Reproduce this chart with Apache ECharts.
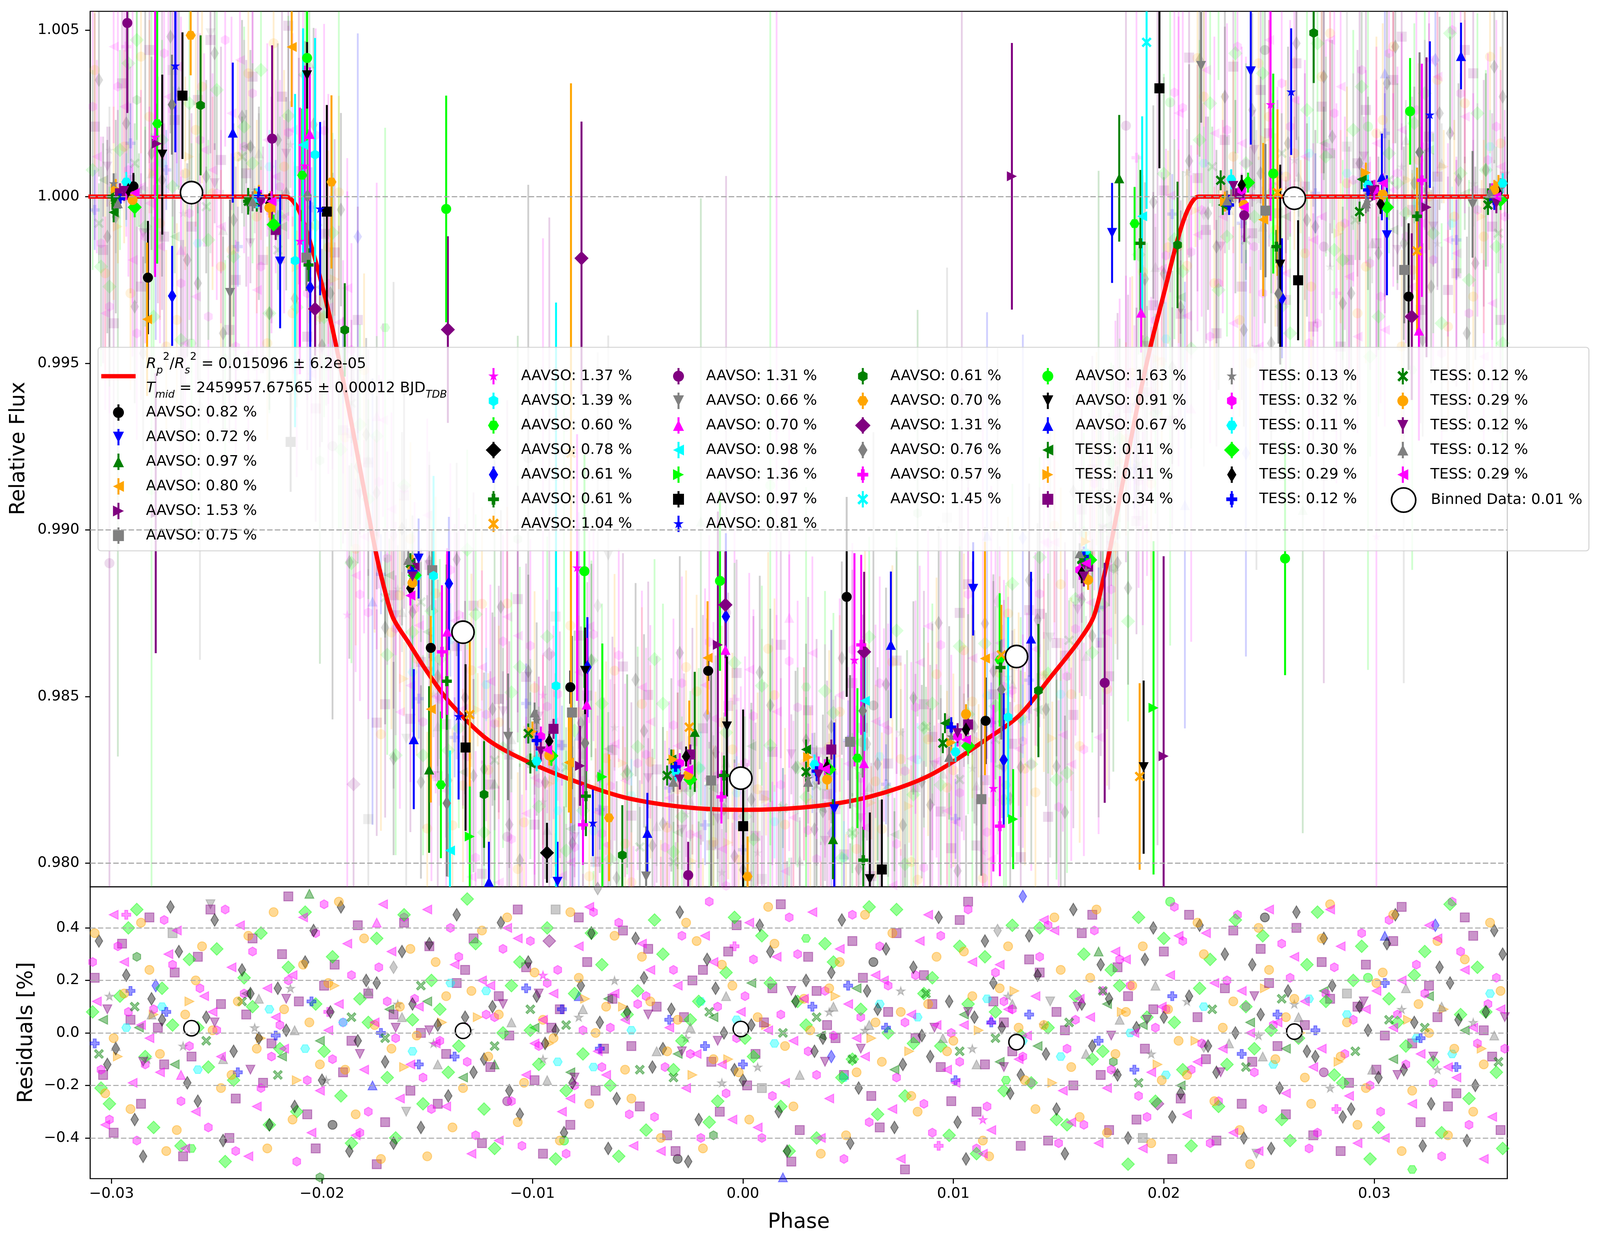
<!DOCTYPE html>
<html>
<head>
<meta charset="utf-8">
<script src="https://cdn.jsdelivr.net/npm/echarts@6/dist/echarts.min.js"></script>
<style>
html, body { margin: 0; padding: 0; background: #fff; overflow: hidden; }
</style>
</head>
<body>
<div id="chart"></div>
<script>
// ---- data ----
const labels = [
  'AAVSO: 0.82 %', 'AAVSO: 0.72 %', 'AAVSO: 0.97 %', 'AAVSO: 0.80 %', 'AAVSO: 1.53 %', 'AAVSO: 0.75 %',
  'AAVSO: 1.37 %', 'AAVSO: 1.39 %', 'AAVSO: 0.60 %', 'AAVSO: 0.78 %', 'AAVSO: 0.61 %', 'AAVSO: 0.61 %', 'AAVSO: 1.04 %',
  'AAVSO: 1.31 %', 'AAVSO: 0.66 %', 'AAVSO: 0.70 %', 'AAVSO: 0.98 %', 'AAVSO: 1.36 %', 'AAVSO: 0.97 %', 'AAVSO: 0.81 %',
  'AAVSO: 0.61 %', 'AAVSO: 0.70 %', 'AAVSO: 1.31 %', 'AAVSO: 0.76 %', 'AAVSO: 0.57 %', 'AAVSO: 1.45 %',
  'AAVSO: 1.63 %', 'AAVSO: 0.91 %', 'AAVSO: 0.67 %', 'TESS: 0.11 %', 'TESS: 0.11 %', 'TESS: 0.34 %',
  'TESS: 0.13 %', 'TESS: 0.32 %', 'TESS: 0.11 %', 'TESS: 0.30 %', 'TESS: 0.29 %', 'TESS: 0.12 %',
  'TESS: 0.12 %', 'TESS: 0.29 %', 'TESS: 0.12 %', 'TESS: 0.12 %', 'TESS: 0.29 %'
];
const modelLabel = ['0.015096', '6.2e-05', '2459957.67565', '0.00012'];
const binnedLabel = 'Binned Data: 0.01 %';

// transit model (phase, relative flux)
const modelPhase = [-0.0311, -0.02172, -0.02115, -0.02066, -0.02017, -0.01968, -0.01928, -0.01871, -0.0181, -0.01746,
  -0.01708, -0.01663, -0.01587, -0.01496, -0.01389, -0.01207, -0.00979, -0.00724, -0.00527, -0.00245, 0.0,
  0.00318, 0.00601, 0.00883, 0.01165, 0.01316, 0.01468, 0.01589, 0.01665, 0.01711, 0.01745, 0.0181, 0.01871,
  0.01938, 0.02003, 0.02068, 0.02117, 0.02166, 0.0364];
const modelFlux = [1.0, 1.0, 0.99965, 0.99883, 0.99776, 0.99653, 0.99538, 0.99357, 0.99153, 0.98938,
  0.98834, 0.98737, 0.9866, 0.9857, 0.98479, 0.98368, 0.98292, 0.98229, 0.98192, 0.98166, 0.9816,
  0.98169, 0.98199, 0.98262, 0.98375, 0.98445, 0.98563, 0.9866, 0.98737, 0.98848, 0.98945, 0.9916, 0.9936,
  0.99554, 0.99716, 0.99877, 0.99965, 1.0, 1.0];

// binned data
const binPhase = [-0.0262, -0.0133, -0.0001, 0.013, 0.0262];
const binFlux = [1.00012, 0.98693, 0.98255, 0.9862, 0.99995];
const binResid = [0.018, 0.008, 0.015, -0.035, 0.005];

// per-dataset binned points [phase, flux, error]
const a01 = [[-0.02896, 1.00031, 0.0004], [-0.02827, 0.99757, 0.0017], [-0.01483, 0.98646, 0.0004], [-0.0082, 0.98528, 0.0005], [-0.00165, 0.98577, 0.0003], [0.00493, 0.98799, 0.003], [0.01153, 0.98427, 0.0013], [0.03163, 0.997, 0.0022]];
const a02 = [[-0.02199, 0.99805, 0.002], [-0.01541, 0.98914, 0.0012], [-0.00881, 0.97944, 0.0012], [0.00434, 0.98162, 0.0026], [0.01094, 0.98823, 0.0014], [0.01754, 0.99891, 0.0015], [0.02413, 1.00376, 0.0022], [0.0306, 0.99884, 0.0018]];
const a03 = [[-0.01491, 0.98281, 0.0025], [-0.00229, 0.98394, 0.0018], [0.00428, 0.98072, 0.0012], [0.01788, 1.00055, 0.0019]];
const a04 = [[-0.02831, 0.99632, 0.0023], [-0.02245, 0.99966, 0.0005], [-0.02144, 1.00449, 0.0018], [-0.01483, 0.98462, 0.0028], [-0.00827, 0.98302, 0.0015], [-0.00168, 0.98616, 0.0017], [0.0115, 0.98614, 0.0035], [0.02472, 0.99931, 0.0023]];
const a05 = [[-0.02785, 1.00159, 0.0012], [-0.0279, 0.9905, 0.0042], [-0.00774, 0.98292, 0.0012], [-0.00119, 0.98655, 0.004], [0.01278, 1.00061, 0.004], [0.01999, 0.98321, 0.006], [0.03248, 0.99968, 0.0045]];
const a06 = [[-0.02149, 0.99264, 0.0015], [-0.02074, 0.99817, 0.001], [-0.01476, 0.98879, 0.0012], [-0.00812, 0.98452, 0.0023], [-0.00151, 0.98248, 0.0032], [0.00509, 0.98364, 0.002], [0.01133, 0.98192, 0.0023], [0.02483, 0.99958, 0.002], [0.03142, 0.9978, 0.0016]];
const a07 = [[-0.02793, 1.00179, 0.0042], [-0.02105, 0.99867, 0.004], [-0.02082, 1.00093, 0.003], [-0.00788, 0.98887, 0.004], [0.0053, 0.9861, 0.0032], [0.0119, 0.98225, 0.0025], [0.02507, 1.00277, 0.0035]];
const a08 = [[-0.02128, 0.99808, 0.005], [-0.02033, 1.00126, 0.0035], [-0.0147, 0.98862, 0.003], [-0.00888, 0.98532, 0.0115], [0.0126, 0.98438, 0.003]];
const a09 = [[-0.02783, 1.00219, 0.0042], [-0.02094, 1.00064, 0.002], [-0.01435, 0.98235, 0.0022], [0.00544, 0.98315, 0.0021], [0.0122, 0.9861, 0.002], [0.01861, 0.99919, 0.0011]];
const a10 = [[-0.00931, 0.98031, 0.0009]];
const a11 = [[-0.02712, 0.99702, 0.0015], [-0.02056, 0.99727, 0.0028], [-0.01397, 0.98839, 0.002], [-0.00739, 0.98588, 0.0015], [-0.00081, 0.9874, 0.0025], [0.01239, 0.9831, 0.002], [0.02561, 0.99695, 0.0018]];
const a12 = [[-0.02996, 1.0, 0.0004], [-0.02351, 0.99986, 0.0004], [-0.02064, 0.99795, 0.0005], [-0.01407, 0.98546, 0.0035], [-0.00746, 0.98201, 0.0012], [-0.0009, 0.98263, 0.0006], [0.00572, 0.98009, 0.001], [0.01224, 0.98587, 0.0008], [0.01889, 0.9986, 0.0022], [0.02535, 0.9985, 0.0005], [0.03203, 0.99941, 0.0005]];
const a13 = [[-0.01298, 0.98446, 0.0022], [-0.00817, 0.9923, 0.0111], [-0.00255, 0.98408, 0.0008], [0.01228, 0.98625, 0.0015], [0.01885, 0.9826, 0.0028], [0.0254, 1.00012, 0.0025], [0.03203, 0.99837, 0.0025]];
const a14 = [[-0.02925, 1.00521, 0.0027], [-0.02237, 1.00174, 0.0028], [-0.0026, 0.97964, 0.001], [0.01719, 0.98541, 0.0036], [0.02382, 0.99944, 0.0008]];
const a15 = [[-0.02437, 0.99711, 0.0028], [-0.01116, 0.98379, 0.0019], [-0.0046, 0.9796, 0.0015], [0.02177, 1.00392, 0.0017], [0.03467, 0.99977, 0.0016]];
const a16 = [[-0.02058, 1.00188, 0.002], [-0.01405, 0.98695, 0.0025], [-0.00742, 0.98476, 0.002], [-0.00083, 0.9864, 0.002], [0.00575, 0.983, 0.002], [0.01892, 0.99652, 0.0012], [0.03212, 0.99598, 0.0033]];
const a17 = [[-0.0209, 1.00155, 0.0035], [-0.01392, 0.98038, 0.003], [0.00579, 0.98487, 0.0015], [0.01897, 0.99941, 0.003]];
const a18 = [[-0.01298, 0.9808, 0.0015], [-0.00668, 0.98259, 0.004], [0.01284, 0.98132, 0.0015], [0.01951, 0.98466, 0.005]];
const a19 = [[-0.02663, 1.00303, 0.0019], [-0.01977, 0.99955, 0.0032], [-0.01318, 0.98347, 0.0025], [0.00001, 0.98111, 0.0035], [0.0066, 0.97981, 0.0021], [0.01979, 1.00325, 0.0024], [0.02638, 0.99749, 0.0018]];
const a20 = [[-0.02697, 1.00393, 0.0026], [-0.02009, 0.99964, 0.0026], [-0.01351, 0.98441, 0.0025], [-0.00713, 0.98121, 0.001], [0.02605, 1.00315, 0.0019], [0.03264, 1.00246, 0.0022]];
const a21 = [[-0.02577, 1.00274, 0.0021], [-0.01892, 0.996, 0.0014], [-0.0123, 0.98206, 0.0016], [-0.00573, 0.98024, 0.0015], [0.01404, 0.98518, 0.002], [0.02065, 0.99855, 0.0019], [0.02712, 1.00491, 0.0015]];
const a22 = [[-0.02624, 1.00484, 0.0012], [-0.01955, 1.00044, 0.0026], [-0.00636, 0.98136, 0.0019], [0.00022, 0.9796, 0.0012]];
const a23 = [[-0.02033, 0.99663, 0.0014], [-0.01402, 0.99601, 0.0028], [-0.00767, 0.99815, 0.0041], [-0.00083, 0.98775, 0.0016], [0.00576, 0.98634, 0.0024], [0.03178, 0.9964, 0.0025]];
const a24 = [[-0.02713, 1.00276, 0.0015], [-0.02069, 1.00002, 0.002], [-0.01407, 0.9818, 0.0022], [-0.0075, 0.9836, 0.0015], [0.00569, 0.98457, 0.002], [0.01228, 0.98521, 0.0015], [0.02545, 0.99709, 0.0015], [0.03215, 1.00133, 0.003]];
const a25 = [[-0.0143, 0.98634, 0.002], [-0.0076, 0.98115, 0.0012], [-0.00102, 0.98199, 0.0008], [0.00562, 0.98655, 0.0027], [0.01221, 0.98111, 0.0015], [0.03226, 1.00049, 0.0035]];
const a26 = [[0.01918, 1.00463, 0.005]];
const a27 = [[-0.02071, 1.00416, 0.0025], [-0.0141, 0.99963, 0.0034], [-0.00753, 0.98876, 0.0035], [-0.00109, 0.98847, 0.0027], [0.0252, 1.00069, 0.003], [0.02576, 0.98914, 0.0035], [0.0317, 1.00256, 0.0016]];
const a28 = [[-0.02759, 1.00126, 0.0024], [-0.02071, 1.00364, 0.001], [-0.0075, 0.98577, 0.0013], [-0.00076, 0.9841, 0.0021], [0.00603, 0.97952, 0.002], [0.01904, 0.98288, 0.0026], [0.02553, 0.99796, 0.003]];
const a29 = [[-0.02424, 1.00192, 0.0021], [-0.01564, 0.98372, 0.0021], [-0.01207, 0.97944, 0.0012], [-0.00454, 0.98091, 0.0012], [0.00703, 0.98655, 0.0022], [0.01369, 0.98674, 0.002], [0.03036, 1.00059, 0.0013], [0.03412, 1.00422, 0.001]];

// TESS binned points [phase, flux], error bars all about the same
const tessBinErr = 0.0003;
const t01 = [[-0.0299, 0.99953], [-0.0231, 0.99985], [-0.0158, 0.9889], [-0.0101, 0.98299], [-0.0034, 0.98311], [0.003, 0.98341], [0.0096, 0.9842], [0.0161, 0.98905], [0.0228, 0.99975], [0.0294, 1.00052], [0.0354, 0.99995]];
const t02 = [[-0.0298, 1.00023], [-0.023, 1.00005], [-0.0157, 0.98895], [-0.01, 0.98395], [-0.0033, 0.98311], [0.0031, 0.98318], [0.0099, 0.98362], [0.0163, 0.98965], [0.0229, 0.99985], [0.0296, 1.00072], [0.0359, 1.00035]];
const t03 = [[-0.0296, 1.0001], [-0.0222, 0.999], [-0.0156, 0.98886], [-0.009, 0.98403], [-0.0025, 0.98326], [0.0042, 0.98341], [0.0107, 0.98416], [0.0164, 0.9889], [0.0236, 1.0001], [0.03, 1.0002], [0.0358, 1.0]];
const t04 = [[-0.0299, 1.0004], [-0.0232, 0.99995], [-0.0157, 0.9888], [-0.0098, 0.9843], [-0.0032, 0.98289], [0.0031, 0.98255], [0.0099, 0.9838], [0.0163, 0.9888], [0.0232, 0.99995], [0.0297, 0.99985], [0.036, 1.00025]];
const t05 = [[-0.0293, 1.0002], [-0.0229, 0.9999], [-0.0156, 0.9887], [-0.0096, 0.9838], [-0.003, 0.983], [0.0036, 0.9829], [0.0102, 0.9838], [0.016, 0.9888], [0.0237, 1.0002], [0.03, 1.0002], [0.0356, 1.0001]];
const t06 = [[-0.0293, 1.00044], [-0.0231, 0.99995], [-0.0155, 0.98862], [-0.0098, 0.98306], [-0.0032, 0.98275], [0.0034, 0.98296], [0.0101, 0.98334], [0.0163, 0.9893], [0.0232, 1.00052], [0.0297, 1.00035], [0.0361, 1.0004]];
const t07 = [[-0.0289, 0.99968], [-0.0223, 0.99916], [-0.0156, 0.98864], [-0.0091, 0.98322], [-0.0025, 0.98251], [0.0041, 0.98281], [0.0107, 0.98352], [0.0165, 0.9891], [0.024, 1.00042], [0.0306, 0.99968], [0.036, 0.9999]];
const t08 = [[-0.0292, 1.0002], [-0.0225, 0.9998], [-0.0158, 0.98825], [-0.0092, 0.98366], [-0.0027, 0.9832], [0.004, 0.98289], [0.0106, 0.98401], [0.0161, 0.9887], [0.0237, 1.00035], [0.0303, 0.99978], [0.0359, 1.0001]];
const t09 = [[-0.0296, 0.99994], [-0.023, 1.0], [-0.0157, 0.98875], [-0.0098, 0.98368], [-0.0032, 0.98289], [0.0035, 0.98276], [0.0099, 0.98408], [0.0162, 0.9892], [0.0231, 0.99975], [0.0297, 1.0002], [0.0357, 0.9999]];
const t10 = [[-0.0298, 0.9999], [-0.0235, 0.99986], [-0.0158, 0.989], [-0.0102, 0.98389], [-0.0036, 0.98263], [0.003, 0.98274], [0.0095, 0.9836], [0.0161, 0.98911], [0.0227, 1.00049], [0.0293, 0.99955], [0.0354, 0.99975]];
const t11 = [[-0.029, 0.9999], [-0.0225, 0.99967], [-0.0157, 0.98841], [-0.0092, 0.98323], [-0.0026, 0.98265], [0.004, 0.98251], [0.0106, 0.98447], [0.0164, 0.9885], [0.0238, 0.99975], [0.0304, 1.00006], [0.0357, 1.0002]];
const t12 = [[-0.0294, 1.00017], [-0.0229, 0.99982], [-0.0157, 0.9886], [-0.0096, 0.98335], [-0.003, 0.98251], [0.0036, 0.98266], [0.0102, 0.9839], [0.0162, 0.9886], [0.0233, 1.00032], [0.0299, 1.00018], [0.0358, 0.9998]];
const t13 = [[-0.0297, 0.9998], [-0.0233, 0.99986], [-0.0159, 0.9891], [-0.0099, 0.98452], [-0.0033, 0.98244], [0.0031, 0.98244], [0.0098, 0.98319], [0.016, 0.9893], [0.023, 0.99988], [0.0296, 0.9998], [0.0355, 1.0001]];
const t14 = [[-0.0289, 1.00011], [-0.0224, 0.99986], [-0.0158, 0.98803], [-0.0093, 0.9834], [-0.0026, 0.98281], [0.0039, 0.98282], [0.0106, 0.9837], [0.0163, 0.989], [0.0238, 0.99968], [0.0304, 1.0004], [0.0358, 1.0]];

// unbinned residuals [phase, residual %]
const rt01 = [[-0.0304, 0.05], [-0.027, -0.12], [-0.0236, 0.15], [-0.0201, -0.03], [-0.0168, 0.09], [-0.0133, -0.17], [-0.0099, 0.02], [-0.0064, 0.13], [-0.0031, -0.08], [0.0004, 0.19], [0.0037, -0.01], [0.0072, -0.14], [0.0105, 0.07], [0.014, -0.05], [0.0173, 0.11], [0.0208, -0.2], [0.0241, 0.04], [0.0276, 0.16], [0.0309, -0.1], [0.0343, 0.01],
  [-0.0287, 0.02], [-0.0219, -0.09], [-0.015, 0.12], [-0.0082, -0.15], [-0.0014, 0.06], [0.0054, 0.17], [0.0122, -0.11], [0.019, 0.03], [0.0258, -0.06], [0.0326, 0.14]];
const rt02 = [[-0.0297, -0.09], [-0.0263, 0.12], [-0.0229, -0.02], [-0.0194, 0.18], [-0.0161, -0.13], [-0.0126, 0.06], [-0.0092, -0.04], [-0.0057, 0.1], [-0.0024, -0.16], [0.0011, 0.03], [0.0044, 0.14], [0.0079, -0.07], [0.0112, 0.01], [0.0147, -0.19], [0.018, 0.08], [0.0215, -0.03], [0.0248, 0.17], [0.0283, -0.11], [0.0316, 0.05], [0.0351, -0.06],
  [-0.028, 0.07], [-0.0212, -0.18], [-0.0143, 0.04], [-0.0075, 0.13], [-0.0007, -0.1], [0.0061, -0.02], [0.0129, 0.16], [0.0197, -0.12], [0.0265, 0.0], [0.0333, 0.09]];
const rt03 = [[-0.0308, 0.21], [-0.0299, -0.38], [-0.0291, 0.05], [-0.0282, 0.44], [-0.0275, -0.12], [-0.0266, -0.47], [-0.0259, 0.29], [-0.0248, 0.11], [-0.0241, -0.25], [-0.0233, 0.36], [-0.0224, -0.04], [-0.0216, 0.52], [-0.0207, -0.31], [-0.0199, 0.18], [-0.019, -0.15], [-0.0183, 0.41], [-0.0174, -0.5], [-0.0166, 0.07], [-0.0158, -0.22], [-0.0149, 0.33], [-0.0141, -0.08], [-0.0132, 0.24], [-0.0124, -0.42], [-0.0116, 0.14], [-0.0107, 0.47], [-0.0099, -0.18], [-0.0091, 0.02], [-0.0082, -0.35], [-0.0074, 0.27], [-0.0066, -0.06], [-0.0057, 0.39], [-0.0049, -0.28], [-0.0041, 0.1], [-0.0032, -0.45], [-0.0024, 0.2], [-0.0015, -0.11], [-0.0007, 0.31], [0.0002, -0.2], [0.001, 0.04], [0.0018, 0.49], [0.0027, -0.37], [0.0035, 0.16], [0.0044, -0.02], [0.0052, 0.35], [0.0061, -0.24], [0.0069, 0.08], [0.0077, -0.52], [0.0086, 0.22], [0.0094, -0.13], [0.0103, 0.43], [0.0111, -0.3], [0.0119, 0.12], [0.0128, -0.07], [0.0136, 0.28], [0.0145, -0.41], [0.0153, 0.01], [0.0161, 0.38], [0.017, -0.16], [0.0178, 0.25], [0.0187, -0.33], [0.0195, 0.09], [0.0204, -0.48], [0.0212, 0.45], [0.022, -0.1], [0.0229, 0.17], [0.0237, -0.27], [0.0246, 0.32], [0.0254, -0.05], [0.0263, 0.4], [0.0271, -0.39], [0.0279, 0.13], [0.0288, -0.19], [0.0296, 0.26], [0.0305, -0.01], [0.0313, 0.48], [0.0322, -0.34], [0.033, 0.06], [0.0339, -0.23], [0.0347, 0.37], [0.0356, -0.09],
  [-0.0304, -0.16], [-0.0295, 0.34], [-0.0286, -0.27], [-0.0278, 0.02], [-0.027, 0.23], [-0.0262, -0.09], [-0.0253, 0.47], [-0.0244, -0.4], [-0.0236, 0.07], [-0.0228, -0.19], [-0.0219, 0.3], [-0.0211, 0.12], [-0.0203, -0.44], [-0.0194, 0.26], [-0.0186, -0.03], [-0.0178, 0.15], [-0.017, -0.34], [-0.0161, 0.42], [-0.0153, 0.0], [-0.0145, -0.27], [-0.0136, 0.19], [-0.0128, 0.36], [-0.012, -0.13], [-0.0111, -0.01], [-0.0103, 0.25], [-0.0095, -0.46], [-0.0087, 0.09], [-0.0078, 0.44], [-0.007, -0.22], [-0.0062, 0.13], [-0.0053, -0.05], [-0.0045, 0.32], [-0.0036, -0.39], [-0.0028, 0.06], [-0.0019, 0.24], [-0.0011, -0.3], [-0.0003, 0.41], [0.0006, -0.08], [0.0014, 0.17], [0.0023, -0.49], [0.0031, 0.29], [0.004, 0.03], [0.0048, -0.16], [0.0057, 0.21], [0.0065, -0.36], [0.0073, 0.38], [0.0082, -0.02], [0.009, 0.11], [0.0099, -0.26], [0.0107, 0.5], [0.0115, -0.12], [0.0124, 0.04], [0.0132, -0.43], [0.0141, 0.23], [0.0149, 0.08], [0.0157, -0.2], [0.0166, 0.45], [0.0174, -0.37], [0.0183, 0.14], [0.0191, -0.06], [0.02, 0.31], [0.0208, -0.25], [0.0216, 0.06], [0.0225, -0.41], [0.0233, 0.39], [0.0242, -0.11], [0.025, 0.19], [0.0258, -0.31], [0.0267, 0.03], [0.0275, 0.27], [0.0284, -0.45], [0.0292, 0.1], [0.0301, -0.14], [0.0309, 0.35], [0.0318, -0.04], [0.0326, 0.18], [0.0335, -0.28], [0.0343, 0.44], [0.0352, 0.01], [0.036, -0.37]];
const rt04 = [[-0.0301, 0.14], [-0.0266, -0.05], [-0.0232, 0.02], [-0.0198, -0.18], [-0.0164, 0.11], [-0.013, 0.01], [-0.0095, -0.1], [-0.0061, 0.2], [-0.0027, -0.02], [0.0007, -0.13], [0.0041, 0.08], [0.0075, 0.16], [0.0109, -0.06], [0.0143, 0.03], [0.0177, -0.15], [0.0211, 0.12], [0.0245, -0.01], [0.0279, -0.21], [0.0313, 0.09], [0.0347, 0.04],
  [-0.0283, -0.1], [-0.0215, 0.17], [-0.0147, -0.04], [-0.0078, 0.06], [-0.001, -0.19], [0.0058, 0.01], [0.0126, 0.14], [0.0194, -0.08], [0.0262, 0.11], [0.033, -0.14]];
const rt05 = [[-0.0305, -0.14], [-0.0297, 0.33], [-0.0288, -0.41], [-0.028, 0.09], [-0.0271, 0.26], [-0.0263, -0.05], [-0.0254, -0.36], [-0.0246, 0.47], [-0.0237, 0.15], [-0.0229, -0.21], [-0.022, 0.03], [-0.0212, -0.49], [-0.0203, 0.38], [-0.0195, -0.1], [-0.0186, 0.22], [-0.0178, -0.3], [-0.0169, 0.12], [-0.0161, 0.44], [-0.0152, -0.17], [-0.0144, -0.03], [-0.0135, 0.29], [-0.0127, -0.39], [-0.0118, 0.06], [-0.011, -0.26], [-0.0101, 0.35], [-0.0093, 0.19], [-0.0084, -0.46], [-0.0076, 0.01], [-0.0067, -0.13], [-0.0059, 0.42], [-0.005, 0.11], [-0.0042, -0.32], [-0.0033, 0.24], [-0.0025, -0.08], [-0.0016, 0.5], [-0.0008, -0.23], [0.0001, 0.14], [0.0009, -0.4], [0.0018, 0.07], [0.0026, 0.3], [0.0035, -0.16], [0.0043, -0.01], [0.0052, 0.45], [0.006, -0.34], [0.0069, 0.18], [0.0077, 0.04], [0.0086, -0.27], [0.0094, 0.37], [0.0103, -0.11], [0.0111, -0.44], [0.012, 0.23], [0.0128, 0.09], [0.0137, -0.19], [0.0145, 0.41], [0.0154, -0.06], [0.0162, -0.35], [0.0171, 0.16], [0.0179, 0.28], [0.0188, -0.24], [0.0196, 0.02], [0.0205, 0.48], [0.0213, -0.14], [0.0222, -0.42], [0.023, 0.2], [0.0239, 0.1], [0.0247, -0.29], [0.0256, 0.34], [0.0264, -0.02], [0.0273, -0.38], [0.0281, 0.25], [0.029, 0.05], [0.0298, -0.2], [0.0307, 0.43], [0.0315, -0.12], [0.0324, 0.15], [0.0332, -0.47], [0.0341, 0.31], [0.0349, -0.04], [0.0358, 0.21],
  [-0.0309, 0.27], [-0.0301, -0.33], [-0.0292, 0.08], [-0.0284, -0.12], [-0.0275, 0.43], [-0.0267, -0.26], [-0.0258, 0.17], [-0.025, 0.01], [-0.0241, -0.45], [-0.0233, 0.31], [-0.0224, -0.09], [-0.0216, 0.2], [-0.0207, -0.18], [-0.0199, 0.49], [-0.019, 0.04], [-0.0182, -0.38], [-0.0173, 0.25], [-0.0165, -0.02], [-0.0156, 0.13], [-0.0148, -0.29], [-0.0139, 0.4], [-0.0131, -0.11], [-0.0122, 0.07], [-0.0114, 0.32], [-0.0105, -0.43], [-0.0097, -0.05], [-0.0088, 0.24], [-0.008, -0.2], [-0.0071, 0.46], [-0.0063, 0.02], [-0.0054, -0.31], [-0.0046, 0.14], [-0.0037, -0.13], [-0.0029, 0.37], [-0.002, -0.4], [-0.0012, 0.1], [-0.0003, -0.02], [0.0005, 0.28], [0.0014, -0.24], [0.0022, 0.44], [0.0031, -0.07], [0.0039, 0.16], [0.0048, -0.48], [0.0056, 0.06], [0.0065, 0.33], [0.0073, -0.17], [0.0082, 0.22], [0.009, -0.38], [0.0099, 0.0], [0.0107, 0.47], [0.0116, -0.28], [0.0124, 0.12], [0.0133, -0.09], [0.0141, 0.29], [0.015, -0.42], [0.0158, 0.05], [0.0167, 0.39], [0.0175, -0.14], [0.0184, 0.18], [0.0192, -0.32], [0.0201, 0.09], [0.0209, 0.35], [0.0218, -0.04], [0.0226, -0.26], [0.0235, 0.45], [0.0243, -0.15], [0.0252, 0.03], [0.026, 0.21], [0.0269, -0.44], [0.0277, 0.15], [0.0286, -0.08], [0.0294, 0.38], [0.0303, -0.3], [0.0311, 0.07], [0.032, 0.26], [0.0328, -0.19], [0.0337, 0.5], [0.0345, -0.35], [0.0354, 0.11], [0.0362, -0.06]];
const rt06 = [[-0.0293, 0.02], [-0.0259, -0.14], [-0.0225, 0.09], [-0.019, 0.04], [-0.0157, -0.07], [-0.0122, 0.16], [-0.0088, -0.11], [-0.0053, 0.01], [-0.002, 0.12], [0.0015, -0.04], [0.0048, -0.17], [0.0083, 0.06], [0.0116, 0.13], [0.0151, -0.09], [0.0184, 0.0], [0.0219, 0.1], [0.0252, -0.12], [0.0287, 0.07], [0.032, -0.02], [0.0355, 0.15],
  [-0.0276, 0.1], [-0.0208, -0.06], [-0.0139, 0.19], [-0.0071, -0.13], [-0.0003, 0.05], [0.0065, 0.11], [0.0133, -0.03], [0.0201, -0.16], [0.0269, 0.13], [0.0337, -0.08]];
const rt07 = [[-0.0309, 0.08], [-0.0301, -0.27], [-0.0292, 0.4], [-0.0284, -0.09], [-0.0276, 0.17], [-0.0267, -0.43], [-0.0259, 0.02], [-0.025, 0.32], [-0.0242, -0.18], [-0.0233, 0.1], [-0.0225, -0.35], [-0.0216, 0.25], [-0.0208, 0.46], [-0.0199, -0.07], [-0.0191, -0.24], [-0.0182, 0.13], [-0.0174, 0.36], [-0.0165, -0.4], [-0.0157, 0.05], [-0.0148, 0.2], [-0.014, -0.15], [-0.0131, 0.51], [-0.0123, -0.29], [-0.0114, 0.0], [-0.0106, 0.27], [-0.0097, -0.12], [-0.0089, -0.48], [-0.008, 0.15], [-0.0072, 0.38], [-0.0063, -0.2], [-0.0055, 0.07], [-0.0046, -0.37], [-0.0038, 0.3], [-0.0029, -0.03], [-0.0021, 0.12], [-0.0012, -0.26], [-0.0004, 0.44], [0.0005, -0.09], [0.0013, 0.19], [0.0022, -0.45], [0.003, 0.03], [0.0039, 0.34], [0.0047, -0.17], [0.0056, 0.09], [0.0064, -0.31], [0.0073, 0.47], [0.0081, -0.04], [0.009, 0.21], [0.0098, -0.39], [0.0107, 0.11], [0.0115, 0.29], [0.0124, -0.22], [0.0132, -0.01], [0.0141, 0.4], [0.0149, -0.33], [0.0158, 0.14], [0.0166, -0.1], [0.0175, 0.24], [0.0183, -0.5], [0.0192, 0.06], [0.02, 0.36], [0.0209, -0.14], [0.0217, 0.17], [0.0226, -0.28], [0.0234, 0.43], [0.0243, -0.06], [0.0251, 0.01], [0.026, -0.41], [0.0268, 0.26], [0.0277, 0.12], [0.0285, -0.19], [0.0294, 0.33], [0.0302, -0.36], [0.0311, 0.04], [0.0319, 0.22], [0.0328, -0.11], [0.0336, 0.49], [0.0345, -0.25], [0.0353, 0.08], [0.0361, -0.44],
  [-0.0305, -0.21], [-0.0296, 0.14], [-0.0288, 0.47], [-0.028, -0.36], [-0.0271, 0.03], [-0.0263, 0.28], [-0.0254, -0.13], [-0.0246, -0.49], [-0.0237, 0.21], [-0.0229, 0.38], [-0.022, -0.06], [-0.0212, -0.3], [-0.0203, 0.11], [-0.0195, 0.29], [-0.0186, -0.42], [-0.0178, 0.04], [-0.0169, -0.17], [-0.0161, 0.45], [-0.0152, -0.27], [-0.0144, 0.09], [-0.0135, -0.05], [-0.0127, 0.34], [-0.0118, -0.44], [-0.011, 0.18], [-0.0101, 0.01], [-0.0093, 0.4], [-0.0084, -0.22], [-0.0076, -0.08], [-0.0067, 0.26], [-0.0059, -0.47], [-0.005, 0.16], [-0.0042, 0.43], [-0.0033, -0.14], [-0.0025, 0.05], [-0.0016, -0.34], [-0.0008, 0.23], [0.0001, -0.02], [0.0009, 0.37], [0.0018, -0.28], [0.0026, 0.12], [0.0035, -0.4], [0.0043, 0.27], [0.0052, -0.1], [0.006, 0.48], [0.0069, 0.0], [0.0077, -0.24], [0.0086, 0.15], [0.0094, -0.05], [0.0103, 0.33], [0.0111, -0.46], [0.012, 0.08], [0.0128, 0.41], [0.0137, -0.19], [0.0145, 0.02], [0.0154, -0.35], [0.0162, 0.3], [0.0171, -0.07], [0.0179, 0.18], [0.0188, 0.44], [0.0196, -0.26], [0.0205, 0.04], [0.0213, -0.43], [0.0222, 0.28], [0.023, -0.12], [0.0239, 0.1], [0.0247, 0.37], [0.0256, -0.33], [0.0264, -0.02], [0.0273, 0.46], [0.0281, -0.16], [0.029, 0.2], [0.0298, -0.48], [0.0307, 0.13], [0.0315, -0.05], [0.0324, 0.31], [0.0332, -0.38], [0.0341, 0.07], [0.0349, 0.25], [0.0358, -0.15]];
const rt08 = [[-0.0306, 0.35], [-0.0298, -0.06], [-0.0289, -0.33], [-0.0281, 0.13], [-0.0272, 0.48], [-0.0264, -0.19], [-0.0255, 0.06], [-0.0247, -0.41], [-0.0238, 0.24], [-0.023, -0.02], [-0.0221, 0.17], [-0.0213, -0.28], [-0.0204, 0.39], [-0.0196, 0.08], [-0.0187, -0.45], [-0.0179, 0.2], [-0.017, -0.11], [-0.0162, 0.31], [-0.0153, -0.36], [-0.0145, 0.03], [-0.0136, 0.45], [-0.0128, -0.15], [-0.0119, 0.1], [-0.0111, -0.22], [-0.0102, 0.27], [-0.0094, -0.04], [-0.0085, -0.38], [-0.0077, 0.18], [-0.0068, 0.04], [-0.006, -0.25], [-0.0051, 0.36], [-0.0043, -0.13], [-0.0034, 0.09], [-0.0026, -0.49], [-0.0017, 0.28], [-0.0009, 0.0], [0.0, -0.18], [0.0008, 0.41], [0.0017, -0.3], [0.0025, 0.12], [0.0034, -0.07], [0.0042, 0.23], [0.0051, -0.42], [0.0059, 0.16], [0.0068, 0.32], [0.0076, -0.12], [0.0085, -0.01], [0.0093, 0.44], [0.0102, -0.34], [0.011, 0.06], [0.0119, 0.19], [0.0127, -0.23], [0.0136, 0.37], [0.0144, -0.08], [0.0153, -0.46], [0.0161, 0.11], [0.017, 0.26], [0.0178, -0.16], [0.0187, 0.02], [0.0195, 0.4], [0.0204, -0.32], [0.0212, 0.14], [0.0221, -0.05], [0.0229, 0.3], [0.0238, -0.4], [0.0246, 0.07], [0.0255, -0.21], [0.0263, 0.46], [0.0272, -0.09], [0.028, 0.18], [0.0289, -0.29], [0.0297, 0.01], [0.0306, 0.34], [0.0314, -0.14], [0.0323, -0.43], [0.0331, 0.25], [0.034, 0.05], [0.0348, -0.2], [0.0357, 0.39],
  [-0.0302, -0.12], [-0.0293, 0.22], [-0.0285, -0.47], [-0.0276, 0.05], [-0.0268, 0.31], [-0.0259, -0.26], [-0.0251, 0.43], [-0.0242, -0.07], [-0.0234, 0.15], [-0.0225, -0.35], [-0.0217, 0.01], [-0.0208, 0.27], [-0.02, -0.18], [-0.0191, 0.48], [-0.0183, -0.03], [-0.0174, 0.19], [-0.0166, -0.42], [-0.0157, 0.11], [-0.0149, 0.34], [-0.014, -0.24], [-0.0132, 0.06], [-0.0123, -0.1], [-0.0115, 0.42], [-0.0106, -0.31], [-0.0098, 0.14], [-0.0089, 0.01], [-0.0081, -0.19], [-0.0072, 0.38], [-0.0064, -0.44], [-0.0055, 0.08], [-0.0047, 0.21], [-0.0038, -0.06], [-0.003, 0.46], [-0.0021, -0.33], [-0.0013, 0.17], [-0.0004, -0.14], [0.0004, 0.03], [0.0013, 0.31], [0.0021, -0.45], [0.003, 0.2], [0.0038, -0.02], [0.0047, 0.43], [0.0055, -0.21], [0.0064, 0.09], [0.0072, -0.36], [0.0081, 0.25], [0.0089, -0.09], [0.0098, 0.12], [0.0106, -0.48], [0.0115, 0.35], [0.0123, 0.02], [0.0132, -0.16], [0.014, 0.22], [0.0149, -0.29], [0.0157, 0.47], [0.0166, -0.05], [0.0174, 0.13], [0.0183, -0.4], [0.0191, 0.28], [0.02, 0.06], [0.0208, -0.23], [0.0217, 0.41], [0.0225, -0.15], [0.0234, 0.0], [0.0242, 0.26], [0.0251, -0.44], [0.0259, 0.16], [0.0268, -0.07], [0.0276, 0.36], [0.0285, -0.32], [0.0293, 0.1], [0.0302, -0.17], [0.031, 0.45], [0.0319, 0.04], [0.0327, -0.27], [0.0336, 0.19], [0.0344, -0.41], [0.0353, 0.08], [0.0361, 0.3]];
const rt09 = [[-0.0308, -0.04], [-0.0274, 0.08], [-0.024, -0.15], [-0.0205, 0.12], [-0.0172, 0.0], [-0.0137, -0.09], [-0.0103, 0.17], [-0.0068, -0.06], [-0.0035, 0.05], [0.0, -0.12], [0.0033, 0.1], [0.0068, 0.02], [0.0101, -0.18], [0.0136, 0.07], [0.0169, -0.03], [0.0204, 0.14], [0.0237, -0.08], [0.0272, 0.01], [0.0305, 0.19], [0.0339, -0.13],
  [-0.0291, 0.16], [-0.0222, -0.01], [-0.0154, -0.12], [-0.0086, 0.09], [-0.0018, -0.05], [0.005, 0.18], [0.0118, 0.04], [0.0186, -0.14], [0.0254, 0.07], [0.0322, -0.02]];
const rt10 = [[-0.0289, 0.1], [-0.0255, -0.03], [-0.0221, -0.16], [-0.0186, 0.06], [-0.0153, 0.18], [-0.0118, -0.05], [-0.0084, 0.03], [-0.0049, -0.14], [-0.0016, 0.08], [0.0019, 0.0], [0.0052, -0.1], [0.0087, 0.15], [0.012, -0.02], [0.0155, 0.04], [0.0188, -0.19], [0.0223, 0.09], [0.0256, 0.13], [0.0291, -0.07], [0.0324, 0.02], [0.0359, -0.11],
  [-0.0306, -0.08], [-0.0238, 0.12], [-0.017, -0.02], [-0.0101, 0.09], [-0.0033, -0.17], [0.0035, 0.06], [0.0103, -0.07], [0.0171, 0.16], [0.0239, -0.13], [0.0307, 0.05]];
const rt11 = [[-0.0303, -0.23], [-0.0294, 0.15], [-0.0286, 0.42], [-0.0277, -0.08], [-0.0269, -0.37], [-0.026, 0.2], [-0.0252, 0.01], [-0.0243, -0.16], [-0.0235, 0.37], [-0.0226, -0.44], [-0.0218, 0.09], [-0.0209, 0.26], [-0.0201, -0.12], [-0.0192, 0.5], [-0.0184, -0.31], [-0.0175, 0.03], [-0.0167, -0.06], [-0.0158, 0.32], [-0.015, -0.47], [-0.0141, 0.14], [-0.0133, -0.21], [-0.0124, 0.39], [-0.0116, 0.07], [-0.0107, -0.34], [-0.0099, 0.23], [-0.009, -0.02], [-0.0082, 0.46], [-0.0073, -0.27], [-0.0065, 0.1], [-0.0056, -0.14], [-0.0048, 0.29], [-0.0039, -0.4], [-0.0031, 0.05], [-0.0022, 0.35], [-0.0014, -0.1], [-0.0005, 0.18], [0.0003, -0.33], [0.0012, 0.48], [0.002, -0.05], [0.0029, 0.13], [0.0037, -0.46], [0.0046, 0.27], [0.0054, -0.15], [0.0063, 0.04], [0.0071, 0.38], [0.008, -0.24], [0.0088, 0.11], [0.0097, -0.07], [0.0105, 0.31], [0.0114, -0.41], [0.0122, 0.17], [0.0131, 0.02], [0.0139, -0.29], [0.0148, 0.44], [0.0156, -0.13], [0.0165, 0.21], [0.0173, -0.38], [0.0182, 0.08], [0.019, 0.33], [0.0199, -0.18], [0.0207, -0.03], [0.0216, 0.42], [0.0224, -0.26], [0.0233, 0.12], [0.0241, -0.5], [0.025, 0.24], [0.0258, 0.06], [0.0267, -0.17], [0.0275, 0.36], [0.0284, -0.09], [0.0292, -0.35], [0.0301, 0.19], [0.0309, 0.45], [0.0318, -0.22], [0.0326, 0.0], [0.0335, -0.39], [0.0343, 0.28], [0.0352, -0.12], [0.036, 0.16],
  [-0.0308, 0.38], [-0.0299, -0.02], [-0.0291, -0.29], [-0.0282, 0.24], [-0.0274, -0.45], [-0.0265, 0.07], [-0.0257, 0.33], [-0.0248, -0.21], [-0.024, 0.12], [-0.0231, -0.06], [-0.0223, 0.46], [-0.0214, -0.33], [-0.0206, 0.04], [-0.0197, 0.19], [-0.0189, -0.14], [-0.018, 0.36], [-0.0172, -0.48], [-0.0163, 0.1], [-0.0155, -0.01], [-0.0146, 0.27], [-0.0138, -0.36], [-0.0129, 0.16], [-0.0121, -0.09], [-0.0112, 0.44], [-0.0104, -0.19], [-0.0095, 0.05], [-0.0087, -0.41], [-0.0078, 0.21], [-0.007, 0.0], [-0.0061, 0.37], [-0.0053, -0.25], [-0.0044, 0.12], [-0.0036, -0.07], [-0.0027, 0.42], [-0.0019, -0.44], [-0.001, 0.26], [-0.0002, -0.15], [0.0007, 0.06], [0.0015, 0.34], [0.0024, -0.28], [0.0032, 0.01], [0.0041, 0.17], [0.0049, -0.39], [0.0058, 0.45], [0.0066, -0.11], [0.0075, 0.08], [0.0083, -0.3], [0.0092, 0.29], [0.01, -0.03], [0.0109, 0.14], [0.0117, -0.47], [0.0126, 0.33], [0.0134, -0.18], [0.0143, 0.03], [0.0151, 0.24], [0.016, -0.32], [0.0168, 0.47], [0.0177, -0.08], [0.0185, 0.18], [0.0194, -0.42], [0.0202, 0.09], [0.0211, -0.16], [0.0219, 0.3], [0.0228, 0.02], [0.0236, -0.37], [0.0245, 0.4], [0.0253, -0.1], [0.0262, 0.13], [0.027, -0.27], [0.0279, 0.49], [0.0287, 0.04], [0.0296, -0.21], [0.0304, 0.23], [0.0313, -0.45], [0.0321, 0.11], [0.033, 0.35], [0.0338, -0.06], [0.0347, -0.3], [0.0355, 0.42]];
const rt12 = [[-0.0285, -0.11], [-0.0251, 0.04], [-0.0217, 0.13], [-0.0182, -0.08], [-0.0149, 0.01], [-0.0114, 0.11], [-0.008, -0.17], [-0.0045, 0.07], [-0.0012, -0.03], [0.0023, 0.16], [0.0056, -0.06], [0.0091, 0.02], [0.0124, -0.13], [0.0159, 0.1], [0.0192, 0.05], [0.0227, -0.15], [0.026, 0.0], [0.0295, 0.12], [0.0328, -0.09], [0.0362, 0.06],
  [-0.0302, 0.09], [-0.0234, -0.14], [-0.0165, 0.02], [-0.0097, 0.15], [-0.0029, -0.07], [0.0039, -0.11], [0.0107, 0.08], [0.0175, -0.01], [0.0243, 0.14], [0.0311, -0.16]];
const rt13 = [[-0.0281, 0.07], [-0.0247, -0.1], [-0.0213, 0.01], [-0.0178, 0.16], [-0.0145, -0.12], [-0.011, 0.04], [-0.0076, 0.09], [-0.0041, -0.07], [-0.0008, 0.14], [0.0027, -0.16], [0.006, 0.03], [0.0095, -0.02], [0.0128, 0.11], [0.0163, -0.08], [0.0196, 0.18], [0.0231, -0.04], [0.0264, 0.06], [0.0299, -0.14], [0.0332, 0.1], [0.0357, -0.01],
  [-0.0298, -0.05], [-0.023, 0.13], [-0.0162, 0.06], [-0.0093, -0.18], [-0.0025, 0.02], [0.0043, 0.1], [0.0111, -0.12], [0.0179, 0.05], [0.0247, -0.09], [0.0315, 0.17]];
const rt14 = [[-0.0307, 0.12], [-0.0299, 0.45], [-0.029, -0.19], [-0.0282, -0.02], [-0.0273, 0.3], [-0.0265, -0.44], [-0.0256, 0.14], [-0.0248, -0.09], [-0.0239, 0.41], [-0.0231, -0.28], [-0.0222, 0.06], [-0.0214, 0.22], [-0.0205, -0.38], [-0.0197, 0.01], [-0.0188, 0.34], [-0.018, -0.14], [-0.0171, 0.49], [-0.0163, -0.25], [-0.0154, 0.1], [-0.0146, -0.04], [-0.0137, 0.26], [-0.0129, -0.46], [-0.012, 0.18], [-0.0112, 0.4], [-0.0103, -0.16], [-0.0095, 0.05], [-0.0086, -0.3], [-0.0078, 0.33], [-0.0069, -0.07], [-0.0061, 0.15], [-0.0052, -0.43], [-0.0044, 0.24], [-0.0035, 0.02], [-0.0027, -0.21], [-0.0018, 0.37], [-0.001, -0.12], [-0.0001, 0.08], [0.0007, -0.36], [0.0016, 0.29], [0.0024, -0.03], [0.0033, 0.46], [0.0041, -0.25], [0.005, 0.11], [0.0058, -0.09], [0.0067, 0.2], [0.0075, -0.48], [0.0084, 0.35], [0.0092, 0.03], [0.0101, -0.19], [0.0109, 0.27], [0.0118, -0.37], [0.0126, 0.09], [0.0135, -0.01], [0.0143, 0.43], [0.0152, -0.22], [0.016, 0.13], [0.0169, -0.42], [0.0177, 0.31], [0.0186, 0.0], [0.0194, -0.15], [0.0203, 0.22], [0.0211, -0.31], [0.022, 0.38], [0.0228, -0.06], [0.0237, 0.16], [0.0245, -0.45], [0.0254, 0.04], [0.0262, 0.29], [0.0271, -0.13], [0.0279, 0.47], [0.0288, -0.24], [0.0296, 0.09], [0.0305, -0.4], [0.0313, 0.2], [0.0322, -0.08], [0.033, 0.36], [0.0339, -0.17], [0.0347, 0.02], [0.0356, -0.32],
  [-0.0303, -0.35], [-0.0294, 0.27], [-0.0286, 0.03], [-0.0277, -0.15], [-0.0269, 0.39], [-0.026, -0.3], [-0.0252, 0.08], [-0.0243, 0.25], [-0.0235, -0.47], [-0.0226, 0.17], [-0.0218, -0.06], [-0.0209, 0.44], [-0.0201, -0.22], [-0.0192, 0.11], [-0.0184, -0.39], [-0.0175, 0.04], [-0.0167, 0.31], [-0.0158, -0.12], [-0.015, 0.47], [-0.0141, -0.28], [-0.0133, 0.02], [-0.0124, 0.2], [-0.0116, -0.41], [-0.0107, 0.36], [-0.0099, -0.04], [-0.009, 0.15], [-0.0082, -0.25], [-0.0073, 0.48], [-0.0065, -0.16], [-0.0056, 0.05], [-0.0048, 0.34], [-0.0039, -0.45], [-0.0031, 0.18], [-0.0022, -0.08], [-0.0014, 0.27], [-0.0005, -0.33], [0.0003, 0.42], [0.0012, 0.01], [0.002, -0.19], [0.0029, 0.13], [0.0037, -0.4], [0.0046, 0.32], [0.0054, -0.02], [0.0063, 0.22], [0.0071, -0.29], [0.008, 0.07], [0.0088, 0.45], [0.0097, -0.14], [0.0105, 0.03], [0.0114, -0.46], [0.0122, 0.26], [0.0131, -0.1], [0.0139, 0.14], [0.0148, 0.39], [0.0156, -0.34], [0.0165, 0.06], [0.0173, -0.21], [0.0182, 0.28], [0.019, -0.44], [0.0199, 0.1], [0.0207, 0.37], [0.0216, -0.11], [0.0224, 0.19], [0.0233, -0.38], [0.0241, 0.0], [0.025, 0.47], [0.0258, -0.23], [0.0267, 0.12], [0.0275, -0.06], [0.0284, 0.33], [0.0292, -0.42], [0.0301, 0.16], [0.0309, 0.02], [0.0318, -0.27], [0.0326, 0.41], [0.0335, -0.13], [0.0343, 0.24], [0.0352, -0.48], [0.036, 0.09]];
const ra01 = [[-0.0284, 0.62], [-0.0195, -0.35], [-0.0102, 0.91], [-0.0031, -0.48], [0.0062, 0.27], [0.0151, -0.83], [0.0248, 0.44]];
const ra03 = [[-0.0297, -0.71], [-0.0206, 0.53], [-0.0118, -0.12], [-0.002, 0.86], [0.0078, -0.57], [0.0169, 0.31], [0.0266, -0.94]];
const ra06 = [[-0.0271, 0.38], [-0.0178, -0.92], [-0.0089, 0.47], [0.0009, -0.21], [0.0097, 0.74], [0.019, -0.4], [0.0287, 0.15]];
const ra07 = [[-0.029, 1.05], [-0.0188, -0.64], [-0.0095, 0.22], [0.0016, 1.14], [0.0114, -0.33], [0.0207, 0.68], [0.0301, -1.02]];
const ra09 = [[-0.0262, -0.44], [-0.017, 0.79], [-0.0071, -0.85], [0.003, 0.36], [0.0125, -0.18], [0.0226, 0.95], [0.0318, -0.52]];
const ra11 = [[-0.0279, 0.18], [-0.0183, 0.66], [-0.0081, -0.59], [0.0042, -0.09], [0.0133, 0.52], [0.0239, -0.77], [0.0329, 0.41]];
const ra14 = [[-0.0301, -1.1], [-0.0211, 0.88], [-0.0112, -0.26], [-0.0008, 0.59], [0.0089, -0.98], [0.0182, 1.02], [0.0276, -0.15]];
const ra15 = [[-0.0253, 0.49], [-0.016, -0.3], [-0.0064, 0.71], [0.0035, -0.68], [0.0146, 0.12], [0.0244, -0.46], [0.0338, 0.83]];
const ra16 = [[-0.0267, -0.16], [-0.0174, 0.42], [-0.0076, -0.97], [0.0022, 0.57], [0.0118, 0.05], [0.0213, -0.61], [0.0309, 0.93]];
const ra21 = [[-0.0288, 0.29], [-0.0201, -0.55], [-0.0107, 0.65], [-0.0014, -0.39], [0.0083, 0.8], [0.0176, -0.11], [0.0271, 0.58]];
const ra23 = [[-0.0276, 0.97], [-0.0185, -1.05], [-0.0092, 0.35], [0.0005, -0.73], [0.0104, 1.08], [0.0197, -0.27], [0.0293, 0.69]];
const ra24 = [[-0.0258, -0.63], [-0.0166, 0.25], [-0.0069, 0.55], [0.0027, -0.92], [0.0121, 0.39], [0.0219, -0.05], [0.0314, -0.7]];
const ra25 = [[-0.0293, 0.45], [-0.0197, 0.08], [-0.0099, -0.67], [-0.0004, 0.33], [0.0093, -0.43], [0.0187, 0.76], [0.0282, -0.29]];
const ra27 = [[-0.0281, -0.88], [-0.0192, 1.12], [-0.0085, -0.41], [0.0013, 0.97], [0.0109, -1.15], [0.0203, 0.5], [0.0297, 0.21]];
const ra29 = [[-0.0269, 0.7], [-0.0176, -0.2], [-0.0078, 0.14], [0.0019, -0.55], [0.0116, 0.61], [0.021, -0.86], [0.0305, 0.37]];

const xTicks = [-0.03, -0.02, -0.01, 0, 0.01, 0.02, 0.03];
const fluxTicks = [0.98, 0.985, 0.99, 0.995, 1.0, 1.005];
const residTicks = [-0.4, -0.2, 0, 0.2, 0.4];

// ---- layout / style ----
// layout is worked out on a 4471 x 3192 canvas and stretched to the window
const SX = window.innerWidth / 4471, SY = window.innerHeight / 3192, SF = Math.min(SX, SY);
const sx = v => v * SX, sy = v => v * SY, sf = v => v * SF;
const chartDiv = document.getElementById('chart');
chartDiv.style.width = window.innerWidth + 'px';
chartDiv.style.height = window.innerHeight + 'px';

const solidSets = [a01, a02, a03, a04, a05, a06, a07, a08, a09, a10, a11, a12, a13, a14, a15, a16, a17, a18, a19, a20,
  a21, a22, a23, a24, a25, a26, a27, a28, a29, t01, t02, t03, t04, t05, t06, t07, t08, t09, t10, t11, t12, t13, t14];
const residSets = [ra01, [], ra03, [], [], ra06, ra07, [], ra09, [], ra11, [], [], ra14, ra15, ra16, [], [], [], [],
  ra21, [], ra23, ra24, ra25, [], ra27, [], ra29, rt01, rt02, rt03, rt04, rt05, rt06, rt07, rt08, rt09, rt10, rt11, rt12, rt13, rt14];
const colorCycle = ['#000000', '#0000ff', '#008000', '#ffa500', '#800080', '#808080', '#ff00ff', '#00ffff', '#00ff00'];
const markerCycle = ['o', 'v', '^', '<', '>', 's', '*', 'h', 'H', 'D', 'd', 'P', 'X'];
const FONT = 'DejaVu Sans';

function shapePts(code) {
  const ngon = (n, r, rot) => Array.from({ length: n }, (_, k) => {
    const a = rot + k * 2 * Math.PI / n;
    return [r * Math.cos(a), r * Math.sin(a)];
  });
  switch (code) {
    case 'o': return ngon(32, 0.5, 0);
    case 'v': return [[-0.5, -0.5], [0.5, -0.5], [0, 0.5]];
    case '^': return [[0, -0.5], [0.5, 0.5], [-0.5, 0.5]];
    case '<': return [[-0.5, 0], [0.5, -0.5], [0.5, 0.5]];
    case '>': return [[0.5, 0], [-0.5, 0.5], [-0.5, -0.5]];
    case 's': return [[-0.5, -0.5], [0.5, -0.5], [0.5, 0.5], [-0.5, 0.5]];
    case '*': {
      const p = [];
      for (let k = 0; k < 10; k++) {
        const r = k % 2 ? 0.5 * 0.381966 : 0.5, a = -Math.PI / 2 + k * Math.PI / 5;
        p.push([r * Math.cos(a), r * Math.sin(a)]);
      }
      return p;
    }
    case 'h': return ngon(6, 0.5, -Math.PI / 2);
    case 'H': return ngon(6, 0.5, 0);
    case 'D': return [[0, -0.7071], [0.7071, 0], [0, 0.7071], [-0.7071, 0]];
    case 'd': return [[0, -0.7071], [0.4243, 0], [0, 0.7071], [-0.4243, 0]];
    case 'P': {
      const a = 0.5, b = 1 / 6;
      return [[-b, -a], [b, -a], [b, -b], [a, -b], [a, b], [b, b], [b, a], [-b, a], [-b, b], [-a, b], [-a, -b], [-b, -b]];
    }
    case 'X': return [[-0.5, -0.3333], [-0.3333, -0.5], [0, -0.1667], [0.3333, -0.5], [0.5, -0.3333], [0.1667, 0],
      [0.5, 0.3333], [0.3333, 0.5], [0, 0.1667], [-0.3333, 0.5], [-0.5, 0.3333], [-0.1667, 0]];
  }
}
function pathD(pts, s) {
  return pts.map((p, k) => (k ? 'L' : 'M') + (p[0] * s).toFixed(2) + ',' + (p[1] * s).toFixed(2)).join('') + 'Z';
}
function signedArea(pts) {
  let s = 0;
  for (let k = 0; k < pts.length; k++) {
    const a = pts[k], b = pts[(k + 1) % pts.length];
    s += a[0] * b[1] - b[0] * a[1];
  }
  return s;
}
function symbolOf(code) { return code === 'o' ? 'circle' : 'path://' + pathD(shapePts(code), 100); }
function sizeOf(code, m) {
  const p = shapePts(code), xs = p.map(q => q[0]), ys = p.map(q => q[1]);
  return [(Math.max(...xs) - Math.min(...xs)) * sf(m), (Math.max(...ys) - Math.min(...ys)) * sf(m)];
}
// legend handle: marker with its error bar through it; two empty points stretch
// the path box to the whole item box so the marker sits in its middle
function legendIcon(code, boxW, boxH) {
  let pts = shapePts(code).map(p => [p[0] * 100, p[1] * 100]);
  const bar = [[-9, -75], [9, -75], [9, 75], [-9, 75]];
  if (Math.sign(signedArea(pts)) !== Math.sign(signedArea(bar))) pts = pts.slice().reverse();
  const W = (75 * boxW / boxH).toFixed(2);
  return 'path://M-' + W + ',-75L-' + W + ',-75Z' + 'M' + W + ',75L' + W + ',75Z' + pathD(bar, 1) + pathD(pts, 1);
}
function modelAt(x) {
  for (let k = 1; k < modelPhase.length; k++) {
    if (x <= modelPhase[k]) {
      const t = (x - modelPhase[k - 1]) / (modelPhase[k] - modelPhase[k - 1]);
      return modelFlux[k - 1] + t * (modelFlux[k] - modelFlux[k - 1]);
    }
  }
  return modelFlux[modelFlux.length - 1];
}
function errSeries(name, pts, color, opacity, width, z) {
  return {
    type: 'custom', name: name, xAxisIndex: 0, yAxisIndex: 0, z: z, clip: true, silent: true,
    data: pts, encode: { x: 0, y: 1 },
    renderItem: function (params, api) {
      const x = api.value(0), y = api.value(1), e = api.value(2);
      const a = api.coord([x, y - e]), b = api.coord([x, y + e]);
      return {
        type: 'line', shape: { x1: a[0], y1: a[1], x2: b[0], y2: b[1] },
        style: { stroke: color, lineWidth: sf(width), opacity: opacity }
      };
    }
  };
}
const minusFmt = d => v => (v < -1e-12 ? '\u2212' : '') + Math.abs(v).toFixed(d);
const gridLineStyle = { color: '#a8a8a8', type: [sf(15), sf(6.5)], width: sf(3) };

const series = [];
const colorOf = i => colorCycle[i % colorCycle.length];
const markerOf = i => markerCycle[i % markerCycle.length];
const pctOf = i => parseFloat(labels[i].split(': ')[1]);

// faint unbinned points: top panel and residual panel
residSets.forEach((arr, i) => {
  if (!arr.length) return;
  const c = colorOf(i), mk = markerOf(i), err = pctOf(i) / 100;
  const top = arr.map(p => [p[0], modelAt(p[0]) + p[1] / 100, err]);
  series.push(errSeries('fe#' + i, top, c, 0.19, 5, 1));
  series.push({
    type: 'scatter', name: 'ft#' + i, xAxisIndex: 0, yAxisIndex: 0, z: 1, clip: true, silent: true,
    data: top.map(p => [p[0], p[1]]), symbol: symbolOf(mk), symbolSize: sizeOf(mk, 28),
    itemStyle: { color: c, opacity: 0.14 }
  });
  series.push({
    type: 'scatter', name: 'fr#' + i, xAxisIndex: 1, yAxisIndex: 1, z: 1, clip: true, silent: true,
    data: arr, symbol: symbolOf(mk), symbolSize: sizeOf(mk, 25),
    itemStyle: { color: c, borderColor: c, borderWidth: sf(2.5), opacity: 0.42 }
  });
});

// dashed grid lines
series.push({
  type: 'line', name: 'gridTop', xAxisIndex: 0, yAxisIndex: 0, z: 2, silent: true, data: [[0, 1]],
  showSymbol: false, lineStyle: { opacity: 0 },
  markLine: { silent: true, symbol: 'none', label: { show: false }, lineStyle: gridLineStyle, data: fluxTicks.map(v => ({ yAxis: v })) }
});
series.push({
  type: 'line', name: 'gridBottom', xAxisIndex: 1, yAxisIndex: 1, z: 2, silent: true, data: [[0, 0]],
  showSymbol: false, lineStyle: { opacity: 0 },
  markLine: { silent: true, symbol: 'none', label: { show: false }, lineStyle: gridLineStyle, data: residTicks.map(v => ({ yAxis: v })) }
});

// transit model
series.push({
  type: 'line', name: 'model', xAxisIndex: 0, yAxisIndex: 0, z: 2, clip: true, silent: true,
  data: modelPhase.map((x, k) => [x, modelFlux[k]]), showSymbol: false, smooth: 0.3,
  itemStyle: { color: '#ff0000' }, lineStyle: { color: '#ff0000', width: sf(12), join: 'round' }
});

// binned points per dataset
solidSets.forEach((arr, i) => {
  const c = colorOf(i), mk = markerOf(i);
  const pts = arr.map(p => [p[0], p[1], p.length > 2 ? p[2] : tessBinErr]);
  series.push(errSeries('se#' + i, pts, c, 1, 5.5, 3));
  series.push({
    type: 'scatter', name: labels[i] + '#' + i, xAxisIndex: 0, yAxisIndex: 0, z: 3, clip: true, silent: true,
    data: pts.map(p => [p[0], p[1]]), symbol: symbolOf(mk), symbolSize: sizeOf(mk, 28),
    itemStyle: { color: c, opacity: 1 }
  });
});

// all data binned
series.push({
  type: 'scatter', name: 'Binned Data', xAxisIndex: 0, yAxisIndex: 0, z: 3, silent: true,
  data: binPhase.map((x, k) => [x, binFlux[k]]), symbol: 'circle', symbolSize: sf(62),
  itemStyle: { color: '#ffffff', borderColor: '#000000', borderWidth: sf(4.5), opacity: 1 }
});
series.push({
  type: 'scatter', name: 'binnedResid', xAxisIndex: 1, yAxisIndex: 1, z: 3, silent: true,
  data: binPhase.map((x, k) => [x, binResid[k]]), symbol: 'circle', symbolSize: sf(43),
  itemStyle: { color: '#ffffff', borderColor: '#000000', borderWidth: sf(4), opacity: 1 }
});

// ---- legends ----
const legendCols = [
  { x: 331, y: 1056, from: 0, to: 5 }, { x: 1379, y: 963, from: 6, to: 12 }, { x: 1896, y: 963, from: 13, to: 19 },
  { x: 2411, y: 963, from: 20, to: 25 }, { x: 2928, y: 963, from: 26, to: 31 }, { x: 3442, y: 963, from: 32, to: 37 },
  { x: 3920, y: 963, from: 38, to: 42 }
];
const legendText = { fontSize: sf(41), fontFamily: FONT, color: '#000', lineHeight: sy(42) };
const itemW = 2 * (sx(77) - 5), itemH = sy(42);
const legends = legendCols.map(col => {
  const data = [];
  for (let i = col.from; i <= col.to; i++) {
    data.push({ name: labels[i] + '#' + i, icon: legendIcon(markerOf(i), itemW, itemH), itemStyle: { color: colorOf(i), borderWidth: 0, opacity: 1 } });
  }
  return {
    orient: 'vertical', left: sx(col.x) - itemW / 2, top: sy(col.y - 21), itemWidth: itemW, itemHeight: itemH, itemGap: sy(21),
    padding: 0, selectedMode: false, z: 5, textStyle: legendText, formatter: n => n.split('#')[0], data: data
  };
});
const richBase = { fontFamily: FONT, color: '#000' };
legends.push({
  orient: 'vertical', left: sx(283), top: sy(901), itemWidth: sx(96), itemHeight: sf(12), padding: 0, selectedMode: false, z: 5,
  data: [{ name: 'model', icon: 'rect', itemStyle: { color: '#ff0000', borderWidth: 0 } }],
  formatter: () => '{i|R}{sb|p}{sp|2}{n|/}{i|R}{sb|s}{sp|2}{n| = ' + modelLabel[0] + ' \u00b1 ' + modelLabel[1] + '}\n' +
    '{i|T}{sb|mid}{n| = ' + modelLabel[2] + ' \u00b1 ' + modelLabel[3] + ' BJD}{sb|TDB}',
  textStyle: {
    fontSize: sf(41), fontFamily: FONT, color: '#000', padding: [0, 0, 0, sx(408 - 384)],
    rich: {
      n: Object.assign({ fontSize: sf(41), lineHeight: sy(62) }, richBase),
      i: Object.assign({ fontSize: sf(41), lineHeight: sy(62), fontStyle: 'italic' }, richBase),
      sb: Object.assign({ fontSize: sf(29), lineHeight: sy(36), fontStyle: 'italic', verticalAlign: 'bottom' }, richBase),
      sp: Object.assign({ fontSize: sf(29), lineHeight: sy(36), verticalAlign: 'top' }, richBase)
    }
  }
});
// binned entry: the round icon only covers its own circle, so the box is placed by the circle
const binR = sy(62) / 2, binW = 2 * (sx(76) - 5);
legends.push({
  orient: 'vertical', left: sx(3920) - binR, top: sy(1247), itemWidth: binW, itemHeight: sy(62), padding: 0, selectedMode: false, z: 5,
  data: [{ name: 'Binned Data', icon: 'circle', itemStyle: { color: '#ffffff', borderColor: '#000000', borderWidth: sf(4.5), opacity: 1 } }],
  formatter: () => binnedLabel, textStyle: legendText
});

// ---- chart ----
const my_echart = echarts.init(chartDiv, null, { renderer: 'canvas' });
const tickStyle = { show: true, length: sf(14), lineStyle: { color: '#000', width: sf(3) } };
const labelStyle = { show: true, fontSize: sf(41), fontFamily: FONT, color: '#000' };
const noLine = { show: false, onZero: false };
const titleFont = sf(58) + 'px "DejaVu Sans"';
let option = {
  animation: false,
  backgroundColor: '#ffffff',
  grid: [
    { left: sx(252), width: sx(3960), top: sy(29), height: sy(2241), show: true, borderColor: '#000', borderWidth: sf(3) },
    { left: sx(252), width: sx(3960), top: sy(2270), height: sy(747), show: true, borderColor: '#000', borderWidth: sf(3) }
  ],
  xAxis: [
    { gridIndex: 0, type: 'value', min: -0.031015, max: 0.03632, axisLine: noLine, axisTick: { show: false },
      axisLabel: { show: false }, splitLine: { show: false } },
    { gridIndex: 1, type: 'value', min: -0.031015, max: 0.03632, axisLine: noLine, splitLine: { show: false },
      axisTick: Object.assign({ customValues: xTicks }, tickStyle),
      axisLabel: Object.assign({ customValues: xTicks, margin: sy(20), formatter: minusFmt(2) }, labelStyle) }
  ],
  yAxis: [
    { gridIndex: 0, type: 'value', min: 0.97929, max: 1.00556, axisLine: noLine, splitLine: { show: false },
      axisTick: Object.assign({ customValues: fluxTicks }, tickStyle),
      axisLabel: Object.assign({ customValues: fluxTicks, margin: sx(30), formatter: minusFmt(3) }, labelStyle) },
    { gridIndex: 1, type: 'value', min: -0.555, max: 0.5565, axisLine: noLine, splitLine: { show: false },
      axisTick: Object.assign({ customValues: residTicks }, tickStyle),
      axisLabel: Object.assign({ customValues: residTicks, margin: sx(30), formatter: minusFmt(1) }, labelStyle) }
  ],
  legend: legends,
  graphic: [
    { type: 'rect', z: 4, silent: true, shape: { x: sx(274), y: sy(889), width: sx(4166), height: sy(521), r: sf(8) },
      style: { fill: 'rgba(255,255,255,0.8)', stroke: 'rgba(204,204,204,0.8)', lineWidth: sf(3) } },
    { type: 'text', x: sx(53), y: sy(1148), rotation: Math.PI / 2, silent: true,
      style: { text: 'Relative Flux', font: titleFont, fill: '#000', textAlign: 'center', textVerticalAlign: 'middle' } },
    { type: 'text', x: sx(74), y: sy(2643), rotation: Math.PI / 2, silent: true,
      style: { text: 'Residuals [%]', font: titleFont, fill: '#000', textAlign: 'center', textVerticalAlign: 'middle' } },
    { type: 'text', x: sx(2232), y: sy(3129), silent: true,
      style: { text: 'Phase', font: titleFont, fill: '#000', textAlign: 'center', textVerticalAlign: 'middle' } }
  ],
  series: series
};
my_echart.setOption(option);
window.addEventListener('resize', function () {
  my_echart.resize();
});
</script>
</body>
</html>
